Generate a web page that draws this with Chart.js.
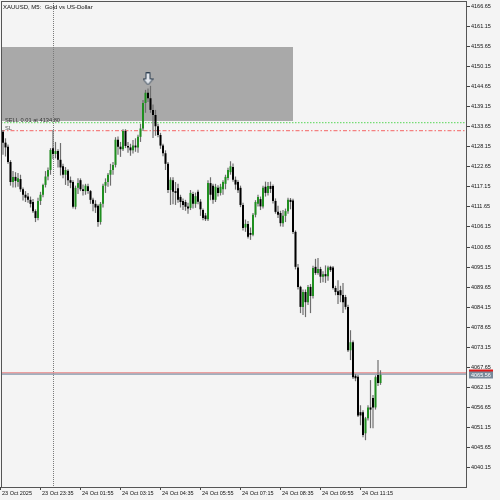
<!DOCTYPE html>
<html>
<head>
<meta charset="utf-8">
<script src="https://cdn.jsdelivr.net/npm/chart.js@4.4.1/dist/chart.umd.min.js"></script>
<style>
  html, body { margin: 0; padding: 0; background: #f4f4f4; }
  #wrap { width: 500px; height: 500px; position: relative; }
</style>
</head>
<body>
<div id="wrap"><canvas id="chart"></canvas></div>
<script>
// XAUUSD M5 candles, bar 0 = 23 Oct 22:15
const opens = [
  4131.5, 4132.3, 4129.3, 4128.2, 4124.0, 4118.5, 4119.9, 4118.5, 4119.3, 4116.5,
  4115.0, 4114.5, 4113.6, 4113.0, 4110.5, 4108.6, 4113.3, 4115.0, 4117.7, 4120.0,
  4121.8, 4127.8, 4126.2, 4127.0, 4124.6, 4122.8, 4120.5, 4121.6, 4119.0, 4118.5,
  4111.7, 4116.9, 4119.0, 4116.5, 4116.0, 4117.3, 4116.0, 4113.6, 4112.5, 4112.0,
  4107.5, 4112.5, 4117.5, 4118.5, 4120.5, 4121.8, 4123.2, 4130.1, 4128.2, 4127.5,
  4132.5, 4128.4, 4128.0, 4127.2, 4128.5, 4128.0, 4130.9, 4133.2, 4140.2, 4143.0,
  4141.5, 4138.3, 4136.9, 4133.8, 4131.4, 4128.5, 4126.4, 4123.5, 4116.3, 4119.0,
  4116.0, 4116.8, 4114.4, 4113.3, 4113.0, 4111.8, 4111.4, 4115.2, 4112.5, 4115.8,
  4113.1, 4110.8, 4109.3, 4108.3, 4118.2, 4117.5, 4113.6, 4116.9, 4115.5, 4116.5,
  4118.0, 4119.6, 4121.2, 4122.6, 4119.1, 4118.5, 4116.9, 4112.2, 4106.0, 4107.0,
  4104.5, 4104.0, 4109.5, 4112.5, 4113.8, 4111.8, 4117.2, 4115.5, 4117.4, 4117.4,
  4113.3, 4110.3, 4110.0, 4107.2, 4109.2, 4110.5, 4113.6, 4113.4, 4104.8, 4095.0,
  4089.7, 4084.2, 4088.3, 4085.5, 4089.7, 4087.2, 4095.2, 4093.5, 4094.6, 4092.5,
  4093.2, 4092.6, 4095.2, 4095.0, 4089.4, 4088.5, 4088.8, 4087.5, 4086.9, 4084.2,
  4072.3, 4074.5, 4065.3, 4065.0, 4055.3, 4055.3, 4049.5, 4053.6, 4056.6, 4059.2,
  4056.6, 4065.5, 4063.3
];
const highs = [
  4133.2, 4132.8, 4130.5, 4128.8, 4124.5, 4121.5, 4121.2, 4121.0, 4120.5, 4117.0,
  4116.0, 4115.5, 4114.5, 4113.8, 4111.0, 4114.2, 4115.8, 4118.0, 4121.5, 4122.5,
  4127.8, 4132.8, 4129.5, 4127.5, 4129.2, 4123.5, 4122.6, 4122.0, 4120.0, 4119.0,
  4117.5, 4119.5, 4119.5, 4117.8, 4118.0, 4118.0, 4116.3, 4114.2, 4113.5, 4112.4,
  4113.0, 4118.0, 4119.5, 4121.0, 4123.5, 4124.0, 4130.8, 4131.0, 4129.5, 4133.0,
  4133.0, 4129.5, 4129.0, 4130.0, 4130.5, 4131.5, 4134.5, 4141.0, 4143.8, 4144.2,
  4144.9, 4139.8, 4138.3, 4134.5, 4132.0, 4129.0, 4127.2, 4124.0, 4119.8, 4119.8,
  4118.5, 4118.0, 4115.0, 4114.0, 4113.6, 4112.8, 4116.3, 4115.8, 4115.6, 4116.4,
  4113.8, 4111.2, 4110.0, 4119.0, 4119.8, 4118.0, 4118.0, 4117.6, 4118.0, 4119.0,
  4120.5, 4122.4, 4124.2, 4123.6, 4120.0, 4119.0, 4117.5, 4112.8, 4108.2, 4107.8,
  4106.0, 4110.0, 4113.5, 4115.0, 4114.5, 4117.5, 4118.6, 4118.5, 4118.6, 4117.8,
  4114.0, 4112.0, 4110.6, 4110.8, 4111.2, 4114.2, 4114.1, 4113.9, 4105.2, 4096.0,
  4090.0, 4089.0, 4089.0, 4090.2, 4090.5, 4095.5, 4097.4, 4097.6, 4095.2, 4094.0,
  4095.6, 4095.5, 4095.5, 4095.4, 4090.0, 4091.5, 4090.0, 4090.8, 4087.5, 4084.8,
  4077.8, 4075.0, 4065.8, 4065.5, 4057.2, 4055.8, 4054.0, 4057.2, 4064.1, 4060.0,
  4065.4, 4069.6, 4066.8
];
const lows = [
  4130.5, 4126.0, 4125.5, 4123.5, 4117.5, 4117.0, 4117.0, 4117.2, 4115.8, 4113.4,
  4113.0, 4112.8, 4111.5, 4110.0, 4107.5, 4108.0, 4112.2, 4114.3, 4117.0, 4119.0,
  4120.5, 4124.8, 4125.0, 4122.5, 4120.3, 4119.5, 4117.7, 4117.4, 4116.8, 4111.2,
  4111.0, 4115.2, 4116.0, 4114.8, 4115.0, 4115.3, 4112.5, 4110.5, 4110.0, 4106.2,
  4106.8, 4111.5, 4115.5, 4117.2, 4117.5, 4120.5, 4122.5, 4126.0, 4125.4, 4127.0,
  4127.8, 4126.5, 4125.7, 4126.3, 4126.8, 4126.5, 4129.5, 4132.5, 4137.5, 4140.5,
  4137.5, 4130.6, 4131.2, 4130.8, 4127.6, 4125.6, 4121.8, 4115.5, 4112.2, 4112.4,
  4112.2, 4112.8, 4111.5, 4110.8, 4110.6, 4109.8, 4110.8, 4111.2, 4111.4, 4112.4,
  4109.2, 4108.0, 4107.8, 4107.8, 4113.5, 4112.5, 4113.0, 4114.5, 4114.8, 4115.0,
  4116.5, 4119.0, 4120.5, 4118.6, 4116.4, 4115.5, 4111.6, 4105.2, 4104.8, 4103.0,
  4102.6, 4103.6, 4108.8, 4111.8, 4110.8, 4111.2, 4114.5, 4114.8, 4115.5, 4112.6,
  4109.8, 4108.6, 4106.3, 4106.2, 4107.5, 4109.8, 4111.0, 4104.2, 4094.5, 4089.0,
  4082.5, 4082.0, 4081.4, 4084.7, 4082.5, 4086.5, 4093.0, 4093.0, 4090.8, 4091.0,
  4090.8, 4091.4, 4093.8, 4089.0, 4087.4, 4085.0, 4085.5, 4082.5, 4083.5, 4071.8,
  4069.6, 4064.4, 4063.8, 4054.0, 4051.7, 4048.4, 4047.6, 4053.0, 4050.9, 4050.9,
  4056.0, 4062.5, 4062.8
];
const closes = [
  4132.3, 4129.3, 4128.0, 4124.0, 4118.5, 4119.9, 4118.8, 4119.5, 4116.5, 4115.0,
  4114.2, 4113.6, 4112.5, 4110.5, 4108.6, 4113.3, 4115.0, 4117.7, 4120.0, 4121.8,
  4127.3, 4126.2, 4127.0, 4124.6, 4122.5, 4120.5, 4121.8, 4119.0, 4118.3, 4111.7,
  4116.9, 4118.2, 4116.5, 4116.0, 4117.5, 4116.0, 4113.6, 4112.5, 4111.5, 4107.5,
  4112.5, 4117.5, 4118.5, 4120.5, 4121.8, 4123.2, 4130.1, 4128.2, 4127.5, 4132.5,
  4128.4, 4128.0, 4127.2, 4128.5, 4128.0, 4130.9, 4133.2, 4140.2, 4143.0, 4141.5,
  4138.3, 4136.9, 4133.8, 4131.4, 4128.5, 4126.4, 4123.5, 4116.3, 4119.1, 4115.8,
  4115.5, 4113.6, 4113.0, 4112.2, 4111.7, 4111.2, 4115.5, 4112.5, 4114.6, 4113.1,
  4111.0, 4108.6, 4108.3, 4118.2, 4115.0, 4113.6, 4117.2, 4115.5, 4117.2, 4118.5,
  4119.9, 4121.8, 4122.8, 4119.1, 4117.8, 4116.2, 4112.2, 4105.9, 4107.0, 4103.5,
  4104.0, 4109.5, 4113.0, 4114.4, 4111.8, 4116.9, 4115.5, 4117.4, 4116.6, 4113.3,
  4110.3, 4109.5, 4107.2, 4109.2, 4110.5, 4113.6, 4113.0, 4104.8, 4095.2, 4089.7,
  4084.2, 4088.3, 4085.5, 4089.7, 4087.2, 4094.9, 4093.5, 4094.6, 4092.5, 4093.2,
  4092.6, 4095.0, 4094.3, 4089.4, 4088.3, 4087.5, 4087.4, 4085.5, 4084.2, 4072.3,
  4074.5, 4064.9, 4064.6, 4054.4, 4054.4, 4049.0, 4053.6, 4056.6, 4056.0, 4056.6,
  4064.9, 4063.3, 4065.56
];

const xTickBars = [0, 16, 32, 48, 64, 80, 96, 112, 128, 144];
const xTickLabels = ['23 Oct 2025', '23 Oct 23:35', '24 Oct 01:55', '24 Oct 03:15', '24 Oct 04:35',
  '24 Oct 05:55', '24 Oct 07:15', '24 Oct 08:35', '24 Oct 09:55', '24 Oct 11:15'];
const yTicks = [4040.15, 4045.65, 4051.15, 4056.65, 4062.15, 4067.65, 4073.15, 4078.65,
  4084.15, 4089.65, 4095.15, 4100.65, 4106.15, 4111.65, 4117.15, 4122.65, 4128.15,
  4133.65, 4139.15, 4144.65, 4150.15, 4155.65, 4161.15, 4166.65];

const zoneBars = [-5, 117];
const zonePrices = [4135.2, 4155.6];
const sellPrice = 4134.80;
const slPrice = 4132.6;
const bidPrice = 4065.56;
const askPrice = 4066.0;
const separatorBar = 21;
const arrowBar = 59;
const arrowPrice = 4146.8;

const FONT = 'Liberation Sans, Arial, sans-serif';

function makeArrow() {
  const c = document.createElement('canvas');
  c.width = 11; c.height = 13;
  const g = c.getContext('2d');
  g.beginPath();
  g.moveTo(3.5, 0.5); g.lineTo(7.5, 0.5); g.lineTo(7.5, 6.5); g.lineTo(10.5, 6.5);
  g.lineTo(5.5, 12.5); g.lineTo(0.5, 6.5); g.lineTo(3.5, 6.5); g.closePath();
  g.fillStyle = '#e2e6ec';
  g.fill();
  g.strokeStyle = '#2a3c4e';
  g.lineWidth = 1;
  g.stroke();
  return c;
}

const bodies = opens.map((o, i) => ({ x: i, y: [o, closes[i]] }));
const wicks = lows.map((l, i) => ({ x: i, y: [l, highs[i]] }));
const bodyColors = opens.map((o, i) => closes[i] > o ? '#1f8f1f' : '#000000');

function hLine(ctx, area, py, color, width, dash) {
  ctx.strokeStyle = color;
  ctx.lineWidth = width;
  ctx.setLineDash(dash);
  ctx.beginPath();
  ctx.moveTo(area.left, py);
  ctx.lineTo(area.right, py);
  ctx.stroke();
}

const overlay = {
  id: 'overlay',
  beforeDatasetsDraw(chart) {
    const { ctx, chartArea: a, scales: { x, y } } = chart;
    ctx.save();
    ctx.beginPath();
    ctx.rect(a.left, a.top, a.right - a.left, a.bottom - a.top);
    ctx.clip();

    // supply zone
    const zx0 = x.getPixelForValue(zoneBars[0]);
    const zx1 = x.getPixelForValue(zoneBars[1]);
    const zy0 = Math.round(y.getPixelForValue(zonePrices[1]));
    const zy1 = Math.round(y.getPixelForValue(zonePrices[0]));
    ctx.fillStyle = '#a9a9a9';
    ctx.fillRect(zx0, zy0, zx1 - zx0, zy1 - zy0);

    // day separator
    const sx = Math.round(x.getPixelForValue(separatorBar)) + 0.5;
    ctx.strokeStyle = '#7a7a7a';
    ctx.lineWidth = 1;
    ctx.setLineDash([1, 1]);
    ctx.beginPath();
    ctx.moveTo(sx, a.top);
    ctx.lineTo(sx, a.bottom);
    ctx.stroke();

    // order and price lines
    hLine(ctx, a, y.getPixelForValue(sellPrice), '#74dc74', 1.4, [1.5, 1.5]);
    hLine(ctx, a, y.getPixelForValue(slPrice), '#f48080', 1.4, [4, 2, 1.5, 2]);
    hLine(ctx, a, y.getPixelForValue(askPrice) - 0.3, '#e66a6a', 1, []);
    hLine(ctx, a, y.getPixelForValue(bidPrice) - 0.6, '#8598ac', 1.2, []);
    ctx.restore();
  },
  afterDraw(chart) {
    const { ctx, chartArea: a, scales: { y } } = chart;
    ctx.save();
    // frame
    ctx.strokeStyle = '#555555';
    ctx.lineWidth = 1;
    ctx.setLineDash([]);
    ctx.strokeRect(a.left + 0.5, a.top + 0.5, a.right - a.left - 1, a.bottom - a.top);

    // texts
    ctx.fillStyle = '#111111';
    ctx.textBaseline = 'alphabetic';
    ctx.textAlign = 'left';
    ctx.font = '6px ' + FONT;
    ctx.fillText('XAUUSD, M5:  Gold vs US-Dollar', 3, 8.5);

    ctx.font = '5.7px ' + FONT;
    ctx.fillStyle = '#333333';
    ctx.fillText('SELL 0.01 at 4134.80', 5, Math.round(y.getPixelForValue(sellPrice)) - 1);
    ctx.fillStyle = '#555555';
    ctx.fillText('SL', 5, Math.round(y.getPixelForValue(slPrice)) - 1);

    // price labels on the axis
    const ay = y.getPixelForValue(askPrice);
    const by = y.getPixelForValue(bidPrice);
    ctx.fillStyle = '#e01818';
    ctx.fillRect(469, Math.round(ay) - 3.5, 24, 7);
    ctx.fillStyle = '#778899';
    ctx.fillRect(469, Math.round(by) - 3.5, 24, 7);
    ctx.fillStyle = '#ffffff';
    ctx.font = '5.5px ' + FONT;
    ctx.textBaseline = 'middle';
    ctx.fillText(bidPrice.toFixed(2), 471, Math.round(by) + 0.2);
    ctx.restore();
  }
};

new Chart(document.getElementById('chart'), {
  type: 'bar',
  data: {
    datasets: [
      {
        label: 'body',
        data: bodies,
        backgroundColor: bodyColors,
        grouped: false,
        barPercentage: 1,
        categoryPercentage: 1,
        maxBarThickness: 2,
        minBarLength: 1,
        inflateAmount: 0,
        borderWidth: 0
      },
      {
        label: 'wick',
        data: wicks,
        backgroundColor: '#6e6e6e',
        grouped: false,
        barPercentage: 1,
        categoryPercentage: 1,
        maxBarThickness: 1.2,
        inflateAmount: 0,
        borderWidth: 0
      },
      {
        type: 'scatter',
        label: 'arrow',
        data: [{ x: arrowBar, y: arrowPrice }],
        pointStyle: makeArrow(),
        pointRadius: 6,
        clip: false
      }
    ]
  },
  options: {
    responsive: true,
    maintainAspectRatio: false,
    animation: false,
    devicePixelRatio: 1,
    layout: { autoPadding: false, padding: { left: 1, top: 1, right: 0, bottom: 0 } },
    plugins: { legend: { display: false }, tooltip: { enabled: false } },
    scales: {
      x: {
        type: 'linear',
        position: 'bottom',
        min: 0.2,
        max: 186.6,
        offset: false,
        border: { display: false },
        grid: { offset: false, drawOnChartArea: false, drawTicks: true, tickLength: 3, color: '#444444' },
        ticks: {
          autoSkip: false,
          maxRotation: 0,
          align: 'start',
          labelOffset: 1.5,
          padding: 0,
          color: '#111111',
          font: { family: FONT, size: 5.5 },
          callback: (v, i) => xTickLabels[i]
        },
        afterBuildTicks: s => { s.ticks = xTickBars.map(v => ({ value: v })); },
        afterFit: s => {
          s.height = 13;
          s.paddingLeft = 0; s.paddingRight = 0; s.paddingTop = 0; s.paddingBottom = 0;
        }
      },
      y: {
        type: 'linear',
        position: 'right',
        min: 4034.75,
        max: 4168.2,
        border: { display: false },
        grid: { drawOnChartArea: false, drawTicks: true, tickLength: 3, color: '#444444' },
        ticks: {
          padding: 1,
          color: '#111111',
          font: { family: FONT, size: 5.5 },
          callback: v => v.toFixed(2)
        },
        afterBuildTicks: s => { s.ticks = yTicks.map(v => ({ value: v })); },
        afterFit: s => {
          s.width = 33;
          s.paddingLeft = 0; s.paddingRight = 0; s.paddingTop = 0; s.paddingBottom = 0;
        }
      }
    }
  },
  plugins: [overlay]
});
</script>
</body>
</html>
